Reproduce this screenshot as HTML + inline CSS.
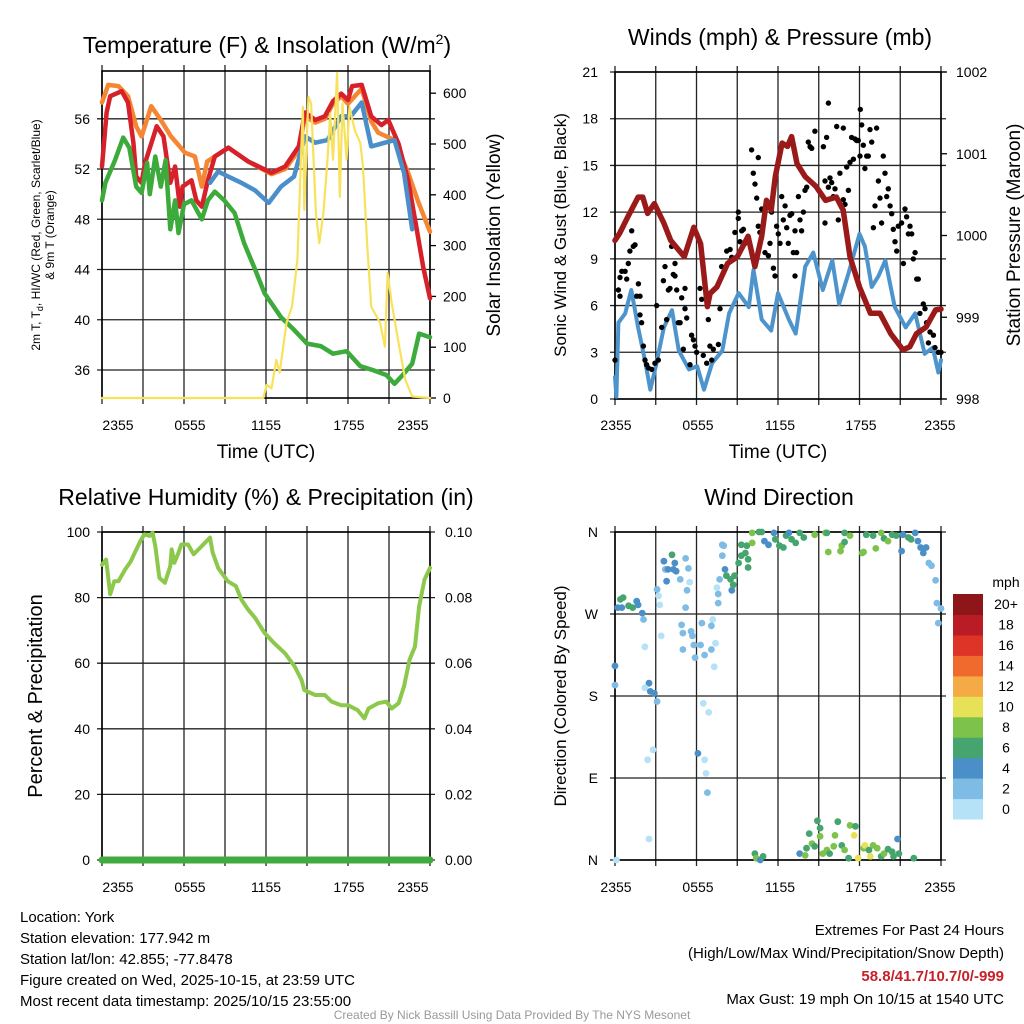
<!DOCTYPE html>
<html><head><meta charset="utf-8"><style>
html,body{margin:0;padding:0;background:#fff}
svg{display:block;font-family:"Liberation Sans",sans-serif}
</style></head><body>
<svg id="s" width="1024" height="1024" viewBox="0 0 1024 1024" xmlns="http://www.w3.org/2000/svg">
<g id="g1"></g>
<g id="g2"></g>
<g id="g3"></g>
<g id="g4"></g>
<g font-size="23" text-anchor="middle" fill="#000">
<text x="267" y="53">Temperature (F) &amp; Insolation (W/m<tspan font-size="14" dy="-9">2</tspan><tspan dy="9">)</tspan></text>
<text x="780" y="45">Winds (mph) &amp; Pressure (mb)</text>
<text x="266" y="505">Relative Humidity (%) &amp; Precipitation (in)</text>
<text x="779" y="505">Wind Direction</text>
</g>
<g font-size="19" text-anchor="middle">
<text x="266" y="458">Time (UTC)</text>
<text x="778" y="458">Time (UTC)</text>
<text transform="translate(500,235) rotate(-90)">Solar Insolation (Yellow)</text>
<text transform="translate(1020,235) rotate(-90)">Station Pressure (Maroon)</text>
<text font-size="17" transform="translate(566,235) rotate(-90)">Sonic Wind &amp; Gust (Blue, Black)</text>
<text font-size="20" transform="translate(42,696) rotate(-90)">Percent &amp; Precipitation</text>
<text font-size="17" transform="translate(566,696) rotate(-90)">Direction (Colored By Speed)</text>
<text font-size="12" transform="translate(40,235) rotate(-90)">2m T, T<tspan font-size="9" dy="3">d</tspan><tspan dy="-3">, HI/WC (Red, Green, Scarlet/Blue)</tspan></text>
<text font-size="12" transform="translate(54,235) rotate(-90)">&amp; 9m T (Orange)</text>
</g>
<g font-size="15" fill="#000">
<text x="20" y="922">Location: York</text>
<text x="20" y="943">Station elevation: 177.942 m</text>
<text x="20" y="964">Station lat/lon: 42.855; -77.8478</text>
<text x="20" y="985">Figure created on Wed, 2025-10-15, at 23:59 UTC</text>
<text x="20" y="1006">Most recent data timestamp: 2025/10/15 23:55:00</text>
</g>
<g font-size="15" text-anchor="end">
<text x="1004" y="935">Extremes For Past 24 Hours</text>
<text x="1004" y="958">(High/Low/Max Wind/Precipitation/Snow Depth)</text>
<text x="1004" y="981" fill="#c8202a" font-weight="bold">58.8/41.7/10.7/0/-999</text>
<text x="1004" y="1004">Max Gust: 19 mph On 10/15 at 1540 UTC</text>
</g>
<text x="512" y="1019" font-size="12" fill="#999" text-anchor="middle">Created By Nick Bassill Using Data Provided By The NYS Mesonet</text>
</svg>
<script>
// ---- Temperature panel data (hours since 2355 UTC) ----
const redH=[0,0.34,0.6,1.44,1.9,2.3,2.5,2.9,3.15,4,4.5,5,5.35,5.7,5.9,6.55,6.9,7.3,7.75,8.25,9.25,10.7,12.4,13.4,14.4,14.85,15.6,16.3,16.9,17.5,18,18.3,19,19.7,20.45,20.95,21.7,22.4,23,23.5,24];
const redT=[52.2,56.5,57.8,58.2,57.3,54.1,51.4,50.9,52.5,55.4,54.6,50.9,52.2,49,50.6,51.1,49.5,49,51.1,53,53.7,52.6,51.7,52.2,53.8,56.5,55.9,56.2,57.4,58,57.5,58.6,58.7,56.2,55.5,55.9,54,51.1,47.4,44.2,41.7];
const orH=[0,0.45,1.2,1.9,2.5,2.9,3.6,4.3,5.05,6.07,6.8,7.3,7.7,8.25,9.25,10.7,12.4,13.4,14.4,14.85,15.6,16.3,16.9,17.5,18,19,19.7,20.2,21.4,22.4,23.1,24];
const orT=[57.3,58.7,58.6,57.8,55.4,54.6,57,55.9,54.6,53.3,53,50.6,52.6,53,53.7,52.6,51.6,52,53.5,56.2,55.7,56,57.2,57.8,57.2,58.4,55.8,54.9,54.3,51.7,49.5,47];
const blH=[7.9,8.5,9.25,10.2,11.2,12.2,13.1,14.05,14.85,15.6,16.5,17.5,18.2,19,19.7,20.7,21.4,22.1,22.7];
const blT=[50.9,51.8,51.4,50.9,50.3,49.3,50.6,51.4,54.6,54.1,54.3,56.2,56.2,57.3,53.8,54.1,54.3,51.7,47.2];
const grH=[0,0.25,0.95,1.55,2,2.5,2.9,3.3,3.5,3.9,4.3,4.65,5,5.35,5.6,6,6.55,7.3,7.75,8.25,8.95,9.7,10.4,11.2,11.9,13.1,14.05,15,16,16.9,17.9,18.9,19.8,20.8,21.4,22,22.7,23.2,24];
const grT=[49.5,50.9,52.7,54.5,53.7,50.6,50.1,52.5,50,53,50.6,52.7,47.2,49.5,46.9,49.2,49.5,48,49.5,50.2,49.5,48.5,46.1,44,42.1,40.2,39.2,38.1,37.9,37.3,37.5,36.3,36,35.6,34.9,35.6,36.5,38.9,38.6];
const solH=[0,11.8,12.05,12.4,12.75,13,13.5,13.9,14.3,14.55,14.7,14.8,15.1,15.3,15.65,15.9,16.2,16.5,16.7,16.9,17.2,17.4,17.6,17.9,18.1,18.5,18.9,19.1,19.4,19.7,20.35,20.7,20.9,21.2,21.7,22.2,22.7,24];
const solW=[0,0,26,19,75,50,148,180,272,469,573,370,593,580,364,305,364,469,560,469,640,396,580,469,573,527,502,455,305,180,148,101,246,187,108,35,3,0];
const tempTicks=[36,40,44,48,52,56];
const solTicks=[0,100,200,300,400,500,600];
const timeLabels=["2355","0555","1155","1755","2355"];
// ---- Winds panel data ----
const presH=[0,0.35,0.95,1.7,2.05,2.4,2.9,3.6,4.1,5.1,5.8,6.3,6.8,7,7.5,8.3,9,9.8,10.3,10.8,11.15,11.5,11.8,12.3,12.7,13,13.4,14,14.8,15.5,16.3,16.8,17.3,18,18.8,19.5,20.3,21.2,21.7,22.2,22.9,23.6,24];
const presV=[999.94,1000.03,1000.23,1000.47,1000.47,1000.27,1000.39,1000.15,999.94,999.74,1000.1,999.9,999.13,999.29,999.37,999.66,999.74,999.99,999.62,999.99,1000.43,1000.31,1000.72,1001.13,1001.09,1001.21,1000.88,1000.72,1000.6,1000.43,1000.47,1000.31,999.74,999.37,999.05,999.05,998.8,998.6,998.64,998.8,998.88,999.09,999.1];
const windH=[0,0.1,0.25,0.75,1.2,1.7,2.2,2.6,3,3.6,4.2,4.7,5.45,6.05,6.55,7.15,7.9,8.4,9.1,9.85,10.2,10.8,11.5,12,12.8,13.3,14,14.6,15.3,16,16.5,17.2,18,18.4,18.9,19.4,19.9,20.6,21.4,22.1,22.8,23.4,23.8,24];
const windV=[1.4,0.15,4.9,5.5,7.0,4.6,2.5,0.6,2.1,4.6,5.7,3.1,1.9,2.1,0.6,2.3,3.1,5.5,6.8,5.9,8.3,5.1,4.4,6.8,5.1,4.2,8.5,9.4,7.0,8.9,6.1,8.1,10.6,9.8,7.2,7.9,8.9,5.9,4.6,5.5,2.9,3.3,1.7,2.5];
const gustH=[0,0.25,0.37,0.5,0.37,0.74,0.86,0.98,1.1,1.23,1.35,1.47,1.6,1.72,1.84,1.84,1.96,2.09,2.21,2.33,2.45,2.7,2.94,3.07,3.19,3.44,3.56,3.68,3.8,3.93,4.05,4.17,4.29,4.42,4.42,4.54,4.66,4.79,4.91,5.03,5.15,5.15,5.28,5.52,5.64,5.77,5.89,6.01,6.26,6.38,6.5,6.75,6.87,6.99,7.12,7.24,7.61,7.73,7.85,8.22,8.47,8.59,8.71,8.83,9.08,9.08,9.2,9.33,9.45,9.57,10.06,10.18,10.31,10.43,10.55,10.55,10.67,10.8,11.04,11.29,11.41,11.53,11.66,11.78,11.9,12.02,12.15,12.27,12.39,12.52,12.64,12.76,12.88,13.01,13.13,13.25,13.37,13.25,13.5,13.62,13.74,13.87,13.99,14.11,14.23,14.36,14.48,14.72,15.34,15.46,15.46,15.58,15.71,15.71,15.83,15.95,16.07,16.2,16.32,16.44,16.56,16.81,16.81,16.93,17.06,17.18,17.3,17.42,17.55,17.67,17.79,17.91,18.04,18.06,18.16,18.28,18.4,18.53,18.65,18.77,18.9,19.02,19.14,19.26,19.39,19.51,19.63,19.75,19.88,20.0,20.12,20.25,20.37,20.49,20.61,20.74,20.86,21.1,21.23,21.35,21.47,21.6,21.72,21.84,21.96,22.09,22.21,22.33,22.45,22.7,22.82,22.94,23.07,23.19,23.44,23.56,23.8,24.0];
const gustV=[2.5,7.0,7.8,8.2,6.6,8.2,7.7,8.7,9.5,10.8,9.8,9.9,6.6,7.4,6.6,5.4,4.9,3.4,2.5,2.2,2.0,1.9,2.3,6.0,2.5,4.6,7.6,8.5,5.1,7.0,7.1,9.8,8.0,8.7,7.9,7.0,4.9,4.9,6.5,3.2,7.1,5.8,5.2,2.2,4.1,3.8,3.4,3.0,7.1,6.4,2.8,2.3,5.1,3.4,2.5,3.2,3.5,5.8,8.5,9.5,9.6,9.1,9.0,10.7,12.0,11.6,10.1,10.8,10.9,10.0,16.0,14.5,13.8,12.9,15.5,11.1,10.7,12.2,9.4,9.2,10.0,12.0,8.4,7.9,11.1,10.6,10.0,13.0,11.5,12.4,11.0,10.0,11.8,11.9,9.4,10.8,9.4,7.9,13.0,11.5,10.8,12.0,13.4,13.6,16.5,16.2,16.1,17.2,16.2,14.0,11.3,16.8,13.6,19.0,14.2,13.9,13.0,13.5,17.5,11.5,14.5,17.4,12.8,12.5,14.9,13.4,15.2,16.8,15.4,16.7,16.6,16.6,15.6,18.6,17.6,16.3,14.8,15.6,15.6,17.3,16.5,11.0,12.4,17.4,14.0,12.9,11.3,15.6,14.5,13.0,13.5,12.4,11.9,10.9,10.1,9.5,11.1,11.3,8.7,12.2,11.7,10.6,11.1,10.6,9.0,9.4,7.7,7.7,5.5,6.1,5.8,4.9,3.6,4.3,4.1,3.3,3.0,3.0];
const windTicks=[0,3,6,9,12,15,18,21];
const presTicks=[998,999,1000,1001,1002];
// ---- Humidity panel data ----
const rhH=[0,0.3,0.6,0.9,1.2,1.7,2.1,2.4,2.8,3.1,3.5,3.7,3.9,4.2,4.6,5,5.1,5.3,5.6,5.8,6.3,6.7,7.3,7.9,8.1,8.5,9.2,9.8,10.2,10.7,11.2,11.9,12.6,13.4,14.1,14.6,14.8,15.6,16.3,16.8,17.5,18,18.7,19.2,19.5,20.2,20.8,21.2,21.7,22.1,22.5,22.9,23.2,23.6,24];
const rhV=[90,91.6,81,85,85,88.6,91,93.7,97.2,99.3,98.8,99.8,95.7,86,84.5,89.6,94.7,90.6,93.7,96.2,96.2,93.2,95.7,98.3,93.7,89,85,83.5,79.4,76.3,73.8,69.2,66.1,63,59,54.9,51.8,50.3,50.3,48.3,47.2,47.2,45.7,43.2,46.2,47.8,48.3,46.2,47.8,52.9,61,65.1,77.3,85.5,89.1];
const precipH=[0,24];
const precipV=[0,0];
const rhTicks=[0,20,40,60,80,100];
const prTicks=["0.00","0.02","0.04","0.06","0.08","0.10"];
// ---- Wind direction data ----
const dirH=[0.1,0.4,0.6,0.2,0.5,1.0,1.3,1.6,1.7,2.0,2.1,0,0,2.2,2.5,2.2,2.6,2.9,3.1,2.8,2.4,2.5,3.6,3.7,3.8,3.9,4.2,4.4,4.5,4.3,4.8,5.2,5.4,5.5,5.3,5.2,3.3,3.2,3.1,3.4,4.9,5.0,5.6,5.7,6.4,7.2,7.1,5.8,6.3,5.0,5.9,6.6,7.1,7.4,7.3,6.5,6.9,6.1,6.6,6.7,6.8,7.9,8.0,7.9,7.5,7.6,7.6,7.7,8.1,8.2,8.5,8.6,8.7,8.8,9.1,9.3,9.6,9.7,9.3,9.8,9.8,10.1,10.1,10.6,10.8,11.0,11.3,11.7,11.8,12.1,12.4,12.6,12.8,13.0,13.3,13.6,13.9,14.7,15.5,15.6,15.7,16.6,16.7,16.9,16.9,17.3,18.3,18.2,18.5,19.0,19.2,19.6,19.8,20.1,20.4,20.7,21.1,21.2,21.6,21.8,22.1,22.3,22.5,22.7,22.9,23.1,23.3,23.6,23.7,24.0,23.8,10.3,10.4,10.7,10.9,13.6,14.0,14.1,14.3,14.5,14.7,14.9,15.1,15.1,15.3,15.6,15.8,16.1,16.2,16.4,16.7,16.9,17.2,17.3,17.6,17.7,17.9,18.3,18.4,18.7,18.8,19.0,19.3,19.6,19.8,20.1,20.4,20.5,20.8,20.9,22.0];
const dirV=[0,286,288,277,277,279,277,284,280,271,264,213,192,234,194,189,185,183,174,121,110,23,328,319,306,319,335,326,317,319,308,331,320,305,296,277,280,290,297,246,258,249,251,246,260,264,257,236,236,231,222,225,231,238,212,172,162,117,110,95,74,346,345,334,299,292,282,308,319,312,308,296,302,312,326,334,337,345,346,330,321,348,359,360,360,350,346,359,352,345,343,356,359,352,348,359,354,357,359,359,338,339,345,349,359,356,338,337,357,356,342,359,353,350,357,356,339,357,354,352,359,350,343,337,343,326,323,307,282,276,260,7,2,0,4,7,5,13,29,18,15,43,35,26,7,11,7,15,27,42,16,11,2,38,27,37,2,13,16,11,4,16,13,4,7,12,9,4,23,7,2];
const dirS=[1,7,7,5,5,7,7,5,5,5,3,5,3,1,5,1,5,5,3,1,1,1,5,3,5,5,7,5,5,5,3,3,3,1,3,3,1,1,3,1,3,3,3,3,3,1,3,3,3,3,3,3,3,1,1,1,1,5,1,1,3,3,3,3,1,3,3,3,5,7,7,5,7,7,7,7,7,7,7,7,7,9,9,7,7,5,5,5,7,7,7,7,5,7,7,7,7,9,9,7,9,9,9,7,7,9,9,9,7,7,9,9,7,9,7,7,5,5,7,7,5,5,5,5,5,3,3,3,3,3,3,7,9,5,7,5,9,7,7,9,7,7,7,9,9,9,7,9,9,7,7,9,7,9,11,7,11,9,11,7,11,9,9,7,9,7,7,7,5,7,7];
const dirLabels=["N","E","S","W","N"];
const dirTicks=[0,90,180,270,360];
const speedBins=["0","2","4","6","8","10","12","14","16","18","20+"];
const speedColors=["#b5e2f7","#7fbce5","#4a8fc7","#46a56e","#7dc24a","#e7e158","#f5ab45","#ef6a2c","#de3428","#b91c24","#8e1518"];

const NS="http://www.w3.org/2000/svg";
function mk(tag,attrs,parent){const e=document.createElementNS(NS,tag);for(const k in attrs)e.setAttribute(k,attrs[k]);parent.appendChild(e);return e;}
function panel(g,x0,x1,y0,y1,nameBase){
  for(let i=0;i<=8;i++){const x=x0+(x1-x0)*i/8;
    const l=mk('line',{x1:x,x2:x,y1:y0-6,y2:y1+6,stroke:'#222','stroke-width':1.3},g);
    
    }
  const r=mk('rect',{x:x0,y:y0,width:x1-x0,height:y1-y0,fill:'none',stroke:'#000','stroke-width':1.6},g);
  
  
}
function hline(g,x0,x1,y){const l=mk('line',{x1:x0-5,x2:x1+5,y1:y,y2:y,stroke:'#222','stroke-width':1.3},g);
  
  }
function txt(g,x,y,s,anchor,size,name){const t=mk('text',{x:x,y:y,'text-anchor':anchor,'font-size':size},g);t.textContent=s;
  
  return t;}
function path(g,hs,vs,fx,fy,color,w,name){let d='';for(let i=0;i<hs.length;i++)d+=(i?'L':'M')+fx(hs[i]).toFixed(1)+','+fy(vs[i]).toFixed(1);
  const p=mk('path',{d:d,fill:'none',stroke:color,'stroke-width':w,'stroke-linejoin':'round','stroke-linecap':'round'},g);
  
  return p;}

// Panel 1
(function(){const g=document.getElementById('g1');const X0=102,X1=430,Y0=71,Y1=398;
 const fx=h=>X0+h*(X1-X0)/24, fy=v=>Y1-(v-33.77)*12.56, fs=w=>Y1-w*0.508;
 tempTicks.forEach(v=>{hline(g,X0,X1,fy(v));txt(g,X0-12,fy(v)+5,String(v),'end',14,'y-tick-label');});
 solTicks.forEach(v=>{const l=mk('line',{x1:X1,x2:X1+6,y1:fs(v),y2:fs(v),stroke:'#000','stroke-width':1.3},g);
   
   
   txt(g,X1+13,fs(v)+5,String(v),'start',14,'y2-tick-label');});
 panel(g,X0,X1,Y0,Y1,'temperature');
 const lp=[118,190,266,349,413];timeLabels.forEach((s,i)=>txt(g,lp[i],430,s,'middle',14,'x-tick-label'));
 path(g,orH,orT,fx,fy,'#f58634',4.5,'orange-9m-temp-line');
 path(g,redH,redT,fx,fy,'#d6202a',4.5,'red-2m-temp-line');
 path(g,blH,blT,fx,fy,'#4a8fc9',4.5,'blue-heat-index-line');
 path(g,grH,grT,fx,fy,'#3dab3b',4.5,'green-dewpoint-line');
 path(g,solH,solW,fx,fs,'#f8e25c',2.2,'yellow-insolation-line');
})();
// Panel 2
(function(){const g=document.getElementById('g2');const X0=615,X1=941,Y0=72,Y1=399;
 const fx=h=>X0+h*(X1-X0)/24, fy=v=>Y1-v*(Y1-Y0)/21, fp=p=>Y1-(p-998)*(Y1-Y0)/4;
 windTicks.forEach(v=>{hline(g,X0,X1,fy(v));txt(g,X0-17,fy(v)+5,String(v),'end',14,'y-tick-label');});
 presTicks.forEach(v=>{const l=mk('line',{x1:X1,x2:X1+6,y1:fp(v),y2:fp(v),stroke:'#000','stroke-width':1.3},g);
   
   
   txt(g,X1+15,fp(v)+5,String(v),'start',14,'y2-tick-label');});
 panel(g,X0,X1,Y0,Y1,'winds');
 const lp=[616,698,780,861,940];timeLabels.forEach((s,i)=>txt(g,lp[i],430,s,'middle',14,'x-tick-label'));
 path(g,windH,windV,fx,fy,'#4e94cc',4,'sonic-wind-line');
 for(let i=0;i<gustH.length;i++){const c=mk('circle',{cx:fx(gustH[i]).toFixed(1),cy:fy(gustV[i]).toFixed(1),r:2.7,fill:'#000'},g);
   
   }
 path(g,presH,presV,fx,fp,'#9a1a1a',5.5,'pressure-line');
})();
// Panel 3
(function(){const g=document.getElementById('g3');const X0=102,X1=430,Y0=532,Y1=860;
 const fx=h=>X0+h*(X1-X0)/24, fy=v=>Y1-v*(Y1-Y0)/100;
 rhTicks.forEach((v,i)=>{hline(g,X0,X1,fy(v));txt(g,X0-12,fy(v)+5,String(v),'end',14,'y-tick-label');
   txt(g,X1+15,fy(v)+5,prTicks[i],'start',14,'y2-tick-label');});
 panel(g,X0,X1,Y0,Y1,'humidity');
 const lp=[118,190,266,349,413];timeLabels.forEach((s,i)=>txt(g,lp[i],892,s,'middle',14,'x-tick-label'));
 path(g,rhH,rhV,fx,fy,'#8cc84b',4,'relative-humidity-line');
 path(g,precipH,precipV,fx,v=>Y1-v*(Y1-Y0)/0.1,'#42ab3f',7,'precipitation-line');
})();
// Panel 4
(function(){const g=document.getElementById('g4');const X0=615,X1=941,Y0=532,Y1=860;
 const fx=h=>X0+h*(X1-X0)/24, fy=d=>Y1-d*(Y1-Y0)/360;
 dirTicks.forEach((v,i)=>{hline(g,X0,X1,fy(v));txt(g,X0-17,fy(v)+5,dirLabels[i],'end',14,'y-tick-label');});
 panel(g,X0,X1,Y0,Y1,'direction');
 const lp=[616,698,780,861,940];timeLabels.forEach((s,i)=>txt(g,lp[i],892,s,'middle',14,'x-tick-label'));
 for(let i=0;i<dirH.length;i++){const bin=Math.min(10,Math.floor(dirS[i]/2));
   const c=mk('circle',{cx:fx(dirH[i]).toFixed(1),cy:fy(dirV[i]).toFixed(1),r:3.4,fill:speedColors[bin]},g);
   
   }
 // colorbar
 const cb=mk('g',{},g);
 
 
 const bh=225/11;
 for(let i=0;i<11;i++){const y=594+(10-i)*bh;
   const r=mk('rect',{x:953,y:y.toFixed(1),width:30,height:(bh+0.5).toFixed(1),fill:speedColors[i]},cb);
   
   
   txt(cb,1006,y+bh/2+5,speedBins[i],'middle',14,'colorbar-label');}
 txt(cb,1006,587,'mph','middle',14,'colorbar-title');
})();
</script>
</body></html>
